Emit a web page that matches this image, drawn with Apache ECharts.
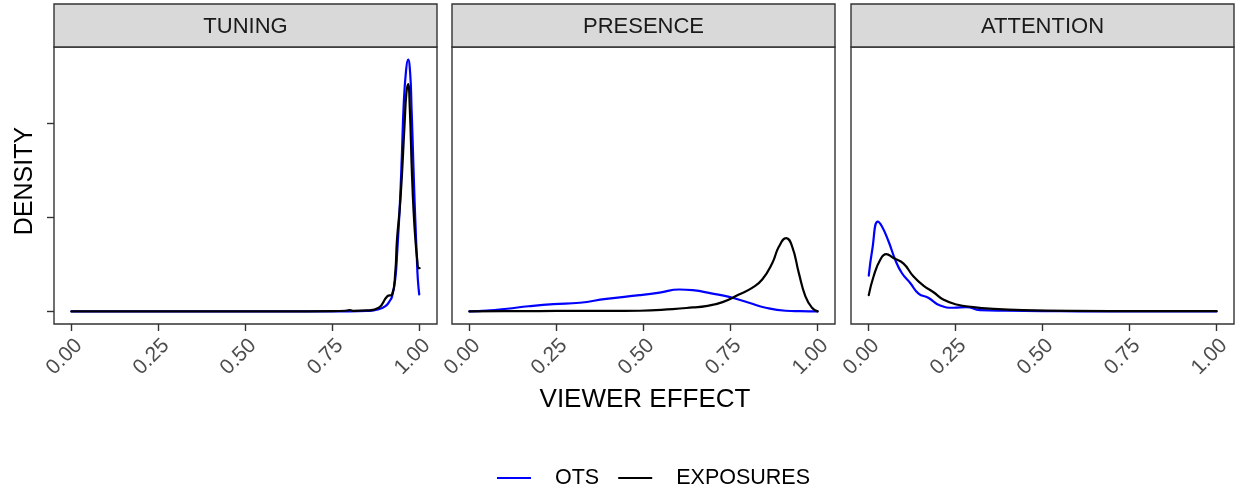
<!DOCTYPE html>
<html>
<head>
<meta charset="utf-8">
<title>Viewer effect densities</title>
<script src="https://cdn.jsdelivr.net/npm/echarts@6/dist/echarts.min.js"></script>
<style>
  html, body { margin: 0; padding: 0; background: #ffffff; }
  #chart { width: 1238px; height: 490px; }
</style>
</head>
<body>
<div id="chart"></div>
<script>
// ---- data ----------------------------------------------------------------
const panelNames = ['TUNING', 'PRESENCE', 'ATTENTION'];
const seriesNames = ['OTS', 'EXPOSURES'];
const xTickValues = [0, 0.25, 0.5, 0.75, 1];
const yTickValues = [0, 10, 20];

const tuningOtsX = [0, 0.2, 0.4, 0.6, 0.8, 0.85, 0.88, 0.902, 0.914, 0.921, 0.930, 0.936, 0.943, 0.949, 0.954, 0.961, 0.967, 0.973, 0.977, 0.980, 0.984, 0.988, 0.992, 0.995, 0.999];
const tuningOtsY = [0, 0, 0, 0, 0, 0.05, 0.2, 0.56, 1.1, 1.6, 3.4, 6.5, 11.1, 16.5, 21.7, 25.6, 26.8, 25.3, 21.5, 18.2, 13.5, 9.4, 5.8, 3.4, 1.8];
const tuningExpX = [0, 0.2, 0.4, 0.6, 0.75, 0.79, 0.80, 0.81, 0.85, 0.883, 0.907, 0.921, 0.930, 0.935, 0.945, 0.957, 0.962, 0.967, 0.972, 0.978, 0.983, 0.988, 0.993, 0.997, 1.0];
const tuningExpY = [0, 0, 0, 0, 0.02, 0.08, 0.15, 0.06, 0.1, 0.4, 1.6, 1.8, 4.1, 7.6, 11.9, 20, 23.2, 24.2, 21.5, 14.7, 10.5, 7.6, 5.6, 4.6, 4.6];

const presenceOtsX = [0, 0.05, 0.108, 0.17, 0.241, 0.317, 0.393, 0.489, 0.546, 0.603, 0.641, 0.698, 0.746, 0.803, 0.851, 0.908, 0.95, 1.0];
const presenceOtsY = [0, 0.08, 0.28, 0.55, 0.78, 0.92, 1.34, 1.73, 2.0, 2.33, 2.26, 1.9, 1.55, 0.92, 0.39, 0.07, 0.02, 0];
const presenceExpX = [0, 0.1, 0.2, 0.3, 0.4, 0.489, 0.584, 0.641, 0.679, 0.727, 0.774, 0.812, 0.841, 0.870, 0.889, 0.910, 0.927, 0.946, 0.965, 0.984, 1.0];
const presenceExpY = [0, 0.02, 0.04, 0.05, 0.05, 0.07, 0.25, 0.42, 0.56, 0.99, 1.8, 2.5, 3.39, 5.15, 6.9, 7.8, 6.9, 4.1, 1.6, 0.39, 0];

const attentionOtsX = [0.001, 0.011, 0.027, 0.039, 0.058, 0.077, 0.096, 0.12, 0.144, 0.172, 0.206, 0.244, 0.282, 0.32, 0.396, 0.5, 0.6, 0.8, 1.0];
const attentionOtsY = [3.81, 6.56, 9.56, 9.03, 7.44, 5.5, 4.09, 3.03, 1.9, 1.45, 0.63, 0.39, 0.46, 0.14, 0.07, 0.03, 0.01, 0, 0];
const attentionExpX = [0.001, 0.015, 0.034, 0.051, 0.072, 0.101, 0.129, 0.158, 0.187, 0.215, 0.253, 0.301, 0.358, 0.444, 0.587, 0.8, 1.0];
const attentionExpY = [1.73, 3.74, 5.5, 6.1, 5.68, 5.08, 3.74, 2.75, 2.04, 1.27, 0.74, 0.46, 0.28, 0.14, 0.05, 0.02, 0.02];

// ---- layout & style -------------------------------------------------------
const FONT = '"Liberation Sans", Arial, Helvetica, sans-serif';
const panelLeft = [54, 452, 851];
const panelWidth = 383;
const stripTop = 4;
const stripHeight = 43;
const plotTop = 47;
const plotHeight = 277;
const frameColor = '#333333';
const lineColors = { OTS: '#0000ff', EXPOSURES: '#000000' };

// y range: data max plus 5% padding on both ends, shared by all panels
const yMaxData = Math.max(...tuningOtsY, ...tuningExpY, ...presenceOtsY, ...presenceExpY, ...attentionOtsY, ...attentionExpY);
const yPad = yMaxData * 0.05;

const zip = (xs, ys) => xs.map((x, i) => [x, ys[i]]);
const panelData = [
  { OTS: zip(tuningOtsX, tuningOtsY), EXPOSURES: zip(tuningExpX, tuningExpY) },
  { OTS: zip(presenceOtsX, presenceOtsY), EXPOSURES: zip(presenceExpX, presenceExpY) },
  { OTS: zip(attentionOtsX, attentionOtsY), EXPOSURES: zip(attentionExpX, attentionExpY) }
];

const grids = [], xAxes = [], yAxes = [], series = [], graphics = [];

panelNames.forEach((name, i) => {
  grids.push({
    left: panelLeft[i], top: plotTop, width: panelWidth, height: plotHeight,
    show: true, borderColor: frameColor, borderWidth: 1.4, backgroundColor: '#ffffff',
    containLabel: false
  });
  xAxes.push({
    type: 'value', gridIndex: i, min: -0.05, max: 1.05, position: 'bottom',
    axisLine: { show: false, onZero: false },
    splitLine: { show: false },
    axisTick: { show: true, customValues: xTickValues, length: 7, lineStyle: { color: frameColor, width: 1.4 } },
    axisLabel: {
      show: true, customValues: xTickValues, rotate: 45, margin: 11,
      align: 'right', verticalAlign: 'top',
      color: '#4d4d4d', fontSize: 21, fontFamily: FONT,
      formatter: v => v.toFixed(2)
    }
  });
  yAxes.push({
    type: 'value', gridIndex: i, min: -yPad, max: yMaxData + yPad, position: 'left',
    axisLine: { show: false, onZero: false },
    splitLine: { show: false },
    axisTick: { show: i === 0, customValues: yTickValues, length: 7, lineStyle: { color: frameColor, width: 1.4 } },
    axisLabel: { show: false }
  });
  seriesNames.forEach(sn => {
    series.push({
      name: sn, type: 'line', xAxisIndex: i, yAxisIndex: i,
      data: panelData[i][sn],
      smooth: 0.5,
      showSymbol: false, symbol: 'none',
      lineStyle: { color: lineColors[sn], width: 2.2, cap: 'round', join: 'round' },
      itemStyle: { color: lineColors[sn] },
      emphasis: { disabled: true },
      animation: false
    });
  });
  // facet strip
  graphics.push({
    type: 'rect', silent: true,
    shape: { x: panelLeft[i], y: stripTop, width: panelWidth, height: stripHeight },
    style: { fill: '#d9d9d9', stroke: frameColor, lineWidth: 1.4 }
  });
  graphics.push({
    type: 'text', silent: true,
    x: panelLeft[i] + panelWidth / 2, y: stripTop + stripHeight / 2 + 1,
    style: { text: name, textAlign: 'center', textVerticalAlign: 'middle', fill: '#1a1a1a', font: '22px ' + FONT }
  });
});

// axis titles
graphics.push({
  type: 'text', silent: true, x: 645, y: 400,
  style: { text: 'VIEWER EFFECT', textAlign: 'center', textVerticalAlign: 'middle', fill: '#000000', font: '26px ' + FONT }
});
graphics.push({
  type: 'text', silent: true, x: 25, y: 181, rotation: Math.PI / 2,
  style: { text: 'DENSITY', textAlign: 'center', textVerticalAlign: 'middle', fill: '#000000', font: '25px ' + FONT }
});

const chart = echarts.init(document.getElementById('chart'), null, { renderer: 'canvas' });
chart.setOption({
  backgroundColor: '#ffffff',
  animation: false,
  grid: grids,
  xAxis: xAxes,
  yAxis: yAxes,
  series: series,
  graphic: graphics,
  legend: {
    data: seriesNames.map(n => ({ name: n, icon: 'rect' })),
    left: 497, top: 467, padding: 0,
    itemWidth: 34, itemHeight: 2, itemGap: 19,
    selectedMode: false,
    textStyle: { color: '#000000', fontSize: 21.5, fontFamily: FONT, padding: [0, 0, 0, 19] }
  },
  tooltip: { show: false }
});
</script>
</body>
</html>
